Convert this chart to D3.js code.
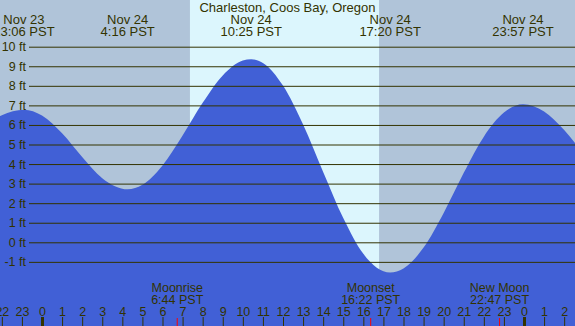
<!DOCTYPE html>
<html>
<head>
	<meta charset="utf-8">
	<script src="https://cdnjs.cloudflare.com/ajax/libs/d3/7.8.5/d3.min.js"></script>
	<style>
		body { margin: 0; }
		svg { display: block; }
		text { font-family: "Liberation Sans", Arial, sans-serif; }
	</style>
</head>
<body>
	<svg width="575" height="326"></svg>
	<script>
		//tide heights, hours from Nov 24 00:00 PST
		let hours = [-3, -2, -1, 0, 1, 2, 3, 4, 5, 6, 7, 8, 9, 10, 11, 12, 13, 14, 15, 16, 17, 18, 19, 20, 21, 22, 23, 24, 25, 26, 27];
		let heights = [5.84, 6.50, 6.78, 6.48, 5.57, 4.36, 3.28, 2.74, 2.94, 3.93, 5.46, 7.13, 8.53, 9.29, 9.17, 8.01, 6.02, 3.60, 1.24, -0.59, -1.49, -1.34, -0.27, 1.50, 3.55, 5.40, 6.63, 7.06, 6.69, 5.74, 4.44];

		//high and low tides
		let extremeDays = ["Nov 23", "Nov 24", "Nov 24", "Nov 24", "Nov 24"];
		let extremeTimes = ["23:06", "4:16", "10:25", "17:20", "23:57"];
		let extremeHeights = [6.78, 2.71, 9.36, -1.55, 7.06];

		//moon events
		let moonLabels = ["Moonrise", "Moonset", "New Moon"];
		let moonTimes = ["6:44", "16:22", "22:47"];

		//daylight
		let sunrise = "7:22", sunset = "16:47";

		//axis ticks
		let ftTicks = [-1, 0, 1, 2, 3, 4, 5, 6, 7, 8, 9, 10];
		let hourTicks = d3.range(-2, 27);

		let title = "Charleston, Coos Bay, Oregon";

		let svg = d3.select("svg"),
			width = +svg.attr("width"),
			height = +svg.attr("height");

		let ink = "#333300";

		//"hh:mm" to hours, Nov 23 is one day back
		function toHours(s, day) {
			let p = s.split(":");
			return +p[0] + p[1] / 60 - (day == "Nov 23" ? 24 : 0);
		}

		let x = d3.scaleLinear().domain([0, 24]).range([42, 524]),
			y = d3.scaleLinear().domain([0, 10]).range([242.3, 46.7]);

		//merge hourly readings with the turning points
		let extremes = extremeTimes.map(function(t, i) {
			return {t: toHours(t, extremeDays[i]), h: extremeHeights[i], day: extremeDays[i], label: t + " PST"};
		});
		let points = hours.map(function(t, i) { return {t: t, h: heights[i]}; })
			.filter(function(p) { return !extremes.some(function(e) { return Math.abs(e.t - p.t) < 0.35; }); })
			.concat(extremes)
			.sort(function(a, b) { return a.t - b.t; });

		//night and day background
		svg.append("rect")
			.attr("width", width)
			.attr("height", height)
			.attr("fill", "#b0c4d9");
		svg.append("rect")
			.attr("x", x(toHours(sunrise)))
			.attr("width", x(toHours(sunset)) - x(toHours(sunrise)))
			.attr("height", height)
			.attr("fill", "#dcf6fd");

		//water
		let area = d3.area()
			.x(function(d) { return x(d.t); })
			.y0(height)
			.y1(function(d) { return y(d.h); })
			.curve(d3.curveMonotoneX);
		svg.append("path")
			.datum(points)
			.attr("fill", "#4160d6")
			.attr("d", area);

		//height lines and labels
		let yAxis = svg.append("g")
			.attr("transform", "translate(29,0)")
			.style("color", ink)
			.call(d3.axisLeft(y)
				.tickValues(ftTicks)
				.tickSize(-(width - 29))
				.tickPadding(3)
				.tickFormat(function(d) { return d + " ft"; }));
		yAxis.select(".domain").remove();
		yAxis.selectAll("text")
			.attr("font-family", "Liberation Sans, Arial, sans-serif")
			.attr("font-size", 12.5)
			.attr("fill", ink);

		//hour axis along the bottom
		let xAxis = svg.append("g")
			.attr("transform", "translate(0," + height + ")")
			.style("color", ink)
			.call(d3.axisTop(x)
				.tickValues(hourTicks)
				.tickSize(9)
				.tickPadding(1)
				.tickFormat(function(d) { return (d % 24 + 24) % 24; }));
		xAxis.select(".domain").remove();
		xAxis.selectAll("text")
			.attr("font-family", "Liberation Sans, Arial, sans-serif")
			.attr("font-size", 12.5)
			.attr("fill", ink);
		xAxis.selectAll(".tick line")
			.attr("stroke-width", function(d) { return d % 24 == 0 ? 3 : 1; });

		//moon events
		let moon = svg.append("g")
			.attr("font-size", 12.5)
			.attr("fill", ink)
			.attr("text-anchor", "middle")
			.selectAll("g")
			.data(moonLabels)
			.enter()
			.append("g")
			.attr("transform", function(d, i) { return "translate(" + x(toHours(moonTimes[i])) + ",0)"; });
		moon.append("line")
			.attr("y1", height - 8)
			.attr("y2", height)
			.attr("stroke", "#ff0000");
		moon.append("text")
			.attr("y", 292)
			.text(function(d) { return d; });
		moon.append("text")
			.attr("y", 304)
			.text(function(d, i) { return moonTimes[i] + " PST"; });

		//tide labels along the top
		let tides = svg.append("g")
			.attr("font-size", 13)
			.attr("fill", ink)
			.attr("text-anchor", "middle")
			.selectAll("g")
			.data(extremes)
			.enter()
			.append("g")
			.attr("transform", function(d) { return "translate(" + x(d.t) + ",0)"; });
		tides.append("text")
			.attr("y", 24)
			.text(function(d) { return d.day; });
		tides.append("text")
			.attr("y", 36)
			.text(function(d) { return d.label; });

		//chart title
		svg.append("text")
			.attr("x", width / 2)
			.attr("y", 12)
			.attr("text-anchor", "middle")
			.attr("font-size", 13)
			.attr("fill", ink)
			.text(title);
	</script>
</body>
</html>
